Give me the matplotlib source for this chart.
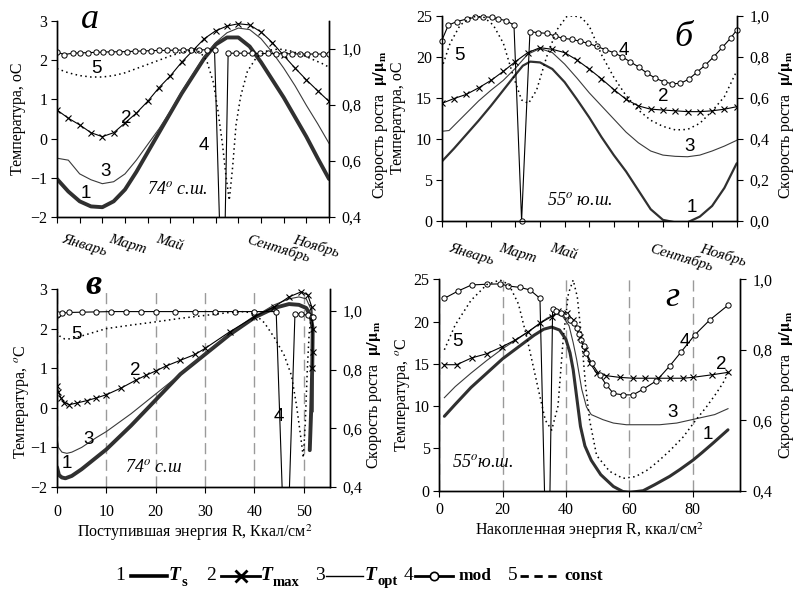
import matplotlib
matplotlib.use("Agg")
import matplotlib.pyplot as plt
from matplotlib.ticker import FuncFormatter

plt.rcParams['font.family'] = ['Liberation Serif', 'DejaVu Serif']
plt.rcParams['mathtext.fontset'] = 'stix'
plt.rcParams['axes.linewidth'] = 1.0

W, H = 798, 592

# ---------------- panel а : 74 N, months ----------------
a_x = [0, 0.5, 1, 1.5, 2, 2.5, 3, 3.5, 4, 4.5, 5, 5.5, 6, 6.5, 7, 7.5, 8, 8.5, 9, 9.5, 10, 10.5, 11, 11.5, 12]
a_ts = [-1.03, -1.35, -1.6, -1.73, -1.75, -1.6, -1.3, -0.85, -0.35, 0.15, 0.65, 1.15, 1.6, 2.05, 2.4, 2.58, 2.58,
        2.35, 1.95, 1.5, 1.05, 0.55, 0.05, -0.5, -1.03]
a_tmax = [0.73, 0.52, 0.35, 0.15, 0.05, 0.15, 0.4, 0.65, 0.95, 1.3, 1.6, 1.95, 2.25, 2.55, 2.75, 2.87, 2.93, 2.9,
          2.72, 2.45, 2.12, 1.8, 1.5, 1.22, 0.95]
a_topt = [-0.5, -0.55, -0.9, -1.05, -1.15, -1.1, -0.9, -0.55, -0.15, 0.25, 0.7, 1.2, 1.65, 2.1, 2.45, 2.7, 2.82,
          2.78, 2.55, 2.2, 1.8, 1.35, 0.85, 0.38, -0.12]
a_mod_x = [0, 0.3, 0.7, 1, 1.35, 1.7, 2.05, 2.4, 2.75, 3.1, 3.45, 3.8, 4.15, 4.5, 4.85, 5.2, 5.55, 5.9, 6.25, 6.6,
           6.95, 7.2, 7.4, 7.55, 7.9, 8.25, 8.6, 8.95, 9.3, 9.65, 10, 10.35, 10.7, 11.05, 11.4, 11.75, 12]
a_mod = [0.99, 0.98, 0.985, 0.986, 0.987, 0.988, 0.989, 0.99, 0.99, 0.991, 0.992, 0.993, 0.994, 0.995, 0.995, 0.996,
         0.996, 0.997, 0.997, 0.997, 0.996, 0.3, 0.3, 0.985, 0.985, 0.985, 0.985, 0.984, 0.984, 0.983, 0.983, 0.983,
         0.982, 0.982, 0.982, 0.982, 0.982]
a_const_x = [0, 0.5, 1, 1.5, 2, 2.5, 3, 3.5, 4, 4.5, 5, 5.5, 6, 6.3, 6.6, 6.9, 7.1, 7.3, 7.45, 7.6, 7.75, 7.9, 8.1,
             8.4, 8.8, 9.3, 9.8, 10.3, 10.8, 11.3, 11.7, 12]
a_const = [0.93, 0.915, 0.905, 0.9, 0.9, 0.905, 0.915, 0.93, 0.945, 0.96, 0.975, 0.988, 0.996, 0.99, 0.96, 0.88,
           0.78, 0.66, 0.55, 0.46, 0.58, 0.73, 0.83, 0.92, 0.97, 0.995, 1.0, 0.993, 0.98, 0.962, 0.948, 0.935]

# ---------------- panel б : 55 S, months ----------------
b_ts_x = [0, 0.5, 1, 1.5, 2, 2.5, 3, 3.3, 3.6, 4, 4.5, 5, 5.5, 6, 6.5, 7, 7.5, 8, 8.5, 9, 9.5, 10, 10.5, 11, 11.5, 12]
b_ts = [7.2, 8.8, 10.5, 12.2, 14.0, 15.9, 17.8, 18.9, 19.4, 19.3, 18.5, 16.9, 14.8, 12.6, 10.2, 8.0, 6.0, 3.7, 1.4,
        0.1, -0.2, -0.2, 0.5, 1.8, 4.0, 7.0]
b_tmax_x = [0, 0.5, 1, 1.5, 2, 2.5, 3, 3.5, 4, 4.5, 5, 5.5, 6, 6.5, 7, 7.5, 8, 8.5, 9, 9.5, 10, 10.5, 11, 11.5, 12]
b_tmax = [14.3, 14.9, 15.4, 16.2, 17.1, 18.2, 19.4, 20.5, 21.1, 20.9, 20.5, 19.6, 18.5, 17.3, 16.0, 14.8, 14.0,
          13.6, 13.5, 13.4, 13.3, 13.3, 13.4, 13.6, 13.9]
b_topt_x = [0, 0.3, 0.7, 1, 1.5, 2, 2.5, 3, 3.5, 4, 4.5, 5, 5.5, 6, 6.5, 7, 7.5, 8, 8.5, 9, 9.5, 10, 10.5, 11, 11.5, 12]
b_topt = [10.9, 11.0, 12.2, 13.1, 14.6, 15.9, 17.1, 18.6, 20.3, 21.0, 20.5, 19.1, 17.4, 15.6, 14.0, 12.4, 10.8, 9.5,
          8.5, 8.0, 7.85, 7.8, 8.0, 8.5, 9.1, 9.8]
b_mod_x = [0, 0.27, 0.61, 1.02, 1.36, 1.69, 2.03, 2.31, 2.62, 2.94, 3.25, 3.59, 3.93, 4.27, 4.61, 4.95, 5.29, 5.63,
           5.97, 6.31, 6.65, 6.99, 7.33, 7.67, 8.01, 8.35, 8.69, 9.03, 9.37, 9.71, 10.05, 10.39, 10.73, 11.07,
           11.41, 11.75, 12]
b_mod = [0.878, 0.954, 0.971, 0.984, 0.992, 0.995, 0.992, 0.984, 0.976, 0.954, 0.0, 0.922, 0.917, 0.914, 0.901,
         0.889, 0.885, 0.875, 0.865, 0.85, 0.835, 0.82, 0.8, 0.775, 0.75, 0.72, 0.695, 0.678, 0.668, 0.67, 0.69,
         0.725, 0.76, 0.8, 0.845, 0.89, 0.93]
b_const_x = [0, 0.34, 0.75, 1.22, 1.69, 2.1, 2.51, 2.92, 3.25, 3.53, 3.86, 4.27, 4.68, 5.08, 5.36, 5.69, 6.0, 6.5,
             7.0, 7.5, 8.0, 8.5, 9.0, 9.5, 10.0, 10.5, 11.0, 11.5, 12]
b_const = [0.743, 0.865, 0.954, 0.995, 0.995, 0.954, 0.865, 0.702, 0.589, 0.572, 0.637, 0.8, 0.93, 0.995, 1.0, 0.99,
           0.95, 0.81, 0.7, 0.61, 0.54, 0.49, 0.46, 0.443, 0.445, 0.475, 0.535, 0.605, 0.73]

# ---------------- panel в : 74 N, received energy ----------------
v_ts_x = [0, 0.4, 1, 1.7, 3, 5, 8, 10, 15, 20, 25, 28, 30, 35, 40, 44, 47, 49, 50.5, 51.4, 51.8, 51.7, 51.5, 51.2]
v_ts = [-1.5, -1.7, -1.76, -1.78, -1.72, -1.55, -1.25, -1.05, -0.45, 0.2, 0.85, 1.15, 1.35, 1.85, 2.28, 2.52,
        2.62, 2.6, 2.52, 2.3, 2.0, 1.0, 0.0, -1.07]
v_tmax_x = [0, 0.3, 0.8, 1.5, 2.5, 4, 6, 8, 10, 13, 16, 18, 20, 22, 25, 28, 30, 35, 40, 44, 47, 49.5, 50.8, 51.6,
            51.8, 51.8, 51.7]
v_tmax = [0.55, 0.4, 0.25, 0.13, 0.08, 0.12, 0.18, 0.25, 0.33, 0.5, 0.7, 0.82, 0.93, 1.05, 1.2, 1.35, 1.5, 1.92,
          2.3, 2.55, 2.8, 2.93, 2.85, 2.55, 2.0, 1.4, 1.0]
v_topt_x = [0, 0.3, 1, 2, 3, 5, 8, 10, 15, 20, 25, 30, 35, 40, 44, 47, 49, 50.5, 51.4, 51.8, 51.9, 51.9]
v_topt = [-0.75, -1.0, -1.12, -1.15, -1.12, -1.0, -0.75, -0.6, -0.15, 0.35, 0.85, 1.38, 1.87, 2.3, 2.6, 2.75, 2.8,
          2.75, 2.5, 1.8, 0.8, -0.1]
v_mod_x = [0, 0.3, 1, 2.5, 5, 8, 11, 14, 17, 20, 24, 28, 32, 36, 40, 44.4, 45.8, 46.9, 48.2, 49.5, 50.8, 51.7, 51.9]
v_mod = [0.985, 0.99, 0.993, 0.995, 0.996, 0.997, 0.998, 0.998, 0.998, 0.998, 0.998, 0.998, 0.998, 0.998, 0.998,
         0.998, 0.3, 0.3, 0.99, 0.99, 0.985, 0.98, 0.98]
v_const_x = [0, 0.5, 1.5, 3, 5, 8, 10, 15, 20, 25, 30, 35, 38, 40, 42, 44, 46, 47.5, 48.5, 49.3, 49.9, 50.3, 50.7,
             51.1, 51.5, 51.8]
v_const = [0.93, 0.915, 0.905, 0.905, 0.915, 0.93, 0.94, 0.952, 0.963, 0.975, 0.985, 0.995, 0.998, 0.99, 0.96,
           0.91, 0.85, 0.78, 0.68, 0.58, 0.5, 0.62, 0.8, 0.93, 0.98, 0.935]

# ---------------- panel г : 55 S, accumulated energy ----------------
g_ts_x = [1.6, 5, 10, 15, 20, 25, 30, 33, 35.5, 38, 40, 41.3, 42.3, 43.5, 44.6, 46, 48, 51, 55, 58, 60.2, 64.4, 68,
          72.8, 76, 80.1, 83, 86.4, 91.2]
g_ts = [8.8, 10.2, 12.2, 13.9, 15.6, 17.0, 18.4, 19.1, 19.35, 19.0, 17.9, 16.3, 14.3, 10.8, 7.6, 5.3, 3.6, 1.9, 0.5,
        -0.1, -0.2, 0.0, 0.7, 1.7, 2.5, 3.6, 4.5, 5.6, 7.2]
g_tmax_x = [1.6, 5.5, 10.2, 15, 19.7, 23.9, 28.1, 31.8, 35.5, 37.6, 40.2, 42.3, 44.4, 46, 47.6, 49.7, 52.8, 57,
            61.3, 65, 69, 73, 77, 80, 86, 91.3]
g_tmax = [14.9, 14.9, 15.7, 16.2, 17.0, 17.8, 18.8, 19.8, 20.6, 21.2, 21.0, 20.2, 18.2, 16.6, 15.1, 13.9, 13.6, 13.4,
          13.3, 13.3, 13.3, 13.3, 13.3, 13.4, 13.7, 14.0]
g_topt_x = [1.6, 5, 10, 15, 20, 25, 30, 34, 37, 39, 41, 42.3, 43.4, 45, 46.5, 48, 51.7, 55, 59.1, 64, 69.6, 75, 82.2,
            87, 91.2]
g_topt = [11.0, 12.3, 13.9, 15.4, 16.8, 18.0, 19.3, 20.4, 20.9, 20.6, 19.5, 17.5, 15.5, 12.0, 9.9, 9.0, 8.4, 8.0,
          7.8, 7.8, 7.8, 8.0, 8.6, 9.0, 9.7]
g_mod_x = [1.6, 6, 10.2, 15, 19.2, 21.8, 25.5, 28.6, 31.8, 33.5, 34.8, 35.8, 37, 38.5, 40, 41.3, 42.5, 43.4, 44.2,
           44.9, 45.7, 46.5, 48.1, 50.7, 52.8, 55, 58.1, 61.2, 64.4, 68.6, 72.8, 76.5, 80.7, 85.5, 91.3]
g_mod = [0.946, 0.967, 0.984, 0.986, 0.987, 0.981, 0.977, 0.97, 0.946, 0.3, 0.3, 0.916, 0.91, 0.905, 0.9, 0.885,
         0.875, 0.861, 0.845, 0.828, 0.81, 0.79, 0.762, 0.728, 0.7, 0.676, 0.672, 0.672, 0.688, 0.712, 0.754, 0.795,
         0.842, 0.885, 0.927]
g_const_x = [1.6, 5, 10, 15, 19.2, 22, 25, 27.6, 30, 31.8, 33.5, 35.5, 37.5, 39.2, 40.8, 42.3, 43.6, 44.9, 46.2,
             47.5, 49.7, 53.8, 58, 62, 66, 69.6, 73, 77.1, 81, 84.4, 87, 89.6, 91.3]
g_const = [0.80, 0.87, 0.94, 0.985, 0.998, 0.985, 0.93, 0.837, 0.74, 0.667, 0.6, 0.572, 0.64, 0.837, 0.96, 0.998,
           0.95, 0.837, 0.7, 0.6, 0.5, 0.455, 0.435, 0.44, 0.46, 0.487, 0.515, 0.553, 0.6, 0.638, 0.67, 0.705, 0.735]

months = ['Январь', 'Март', 'Май', 'Июль', 'Сентябрь', 'Ноябрь']
month_pos = [1.2, 3.1, 4.95, 7.0, 9.75, 11.45]

fig = plt.figure(figsize=(W / 100, H / 100), dpi=100)


def box(l, t, r, b):
    return [l / W, 1 - b / H, (r - l) / W, (b - t) / H]


def comma(v, p):
    return f"{v:.1f}".replace('.', ',')


def panel(rect):
    ax = fig.add_axes(box(*rect))
    ax2 = ax.twinx()
    for a in (ax, ax2):
        a.spines['top'].set_visible(False)
        a.tick_params(direction='out', length=4, width=0.8, labelsize=11.5, pad=3)
    ax2.yaxis.set_major_formatter(FuncFormatter(comma))
    ax2.tick_params(axis='y', pad=5)
    return ax, ax2


def draw(ax, ax2, ts, tmax, topt, mod, const, lw1, mod_clip=True):
    ax.plot(*ts, color='#303030', lw=lw1, solid_capstyle='round', zorder=3)
    ax.plot(*tmax, color='black', lw=0.8, marker='x', ms=5, mew=0.8, zorder=4)
    ax.plot(*topt, color='#3a3a3a', lw=0.8, zorder=3)
    ax2.plot(*mod, color='black', lw=0.8, marker='o', ms=3.8, mfc='white', mew=0.7, clip_on=mod_clip)
    ax2.plot(*const, color='black', lw=1.1, ls=(0, (1, 2.2)))


def nums(ax, items):
    for s, x, y in items:
        ax.text(x, y, s, fontsize=13.5, family='Liberation Sans', ha='center', va='center', zorder=6)


def month_axis(ax, pad):
    ax.set_xlim(0, 12)
    ax.set_xticks(range(13))
    ax.set_xticklabels([])
    ax.set_xticks(month_pos, months, minor=True)
    ax.tick_params(axis='x', which='minor', length=0, pad=pad)
    for t in ax.get_xticklabels(minor=True):
        t.set_rotation(-17)
        t.set_fontstyle('italic')
        t.set_fontsize(11)


# ---- а ----
ax, ax2 = panel((57, 21, 329, 217))
draw(ax, ax2, (a_x, a_ts), (a_x, a_tmax), (a_x, a_topt), (a_mod_x, a_mod), (a_const_x, a_const), 2.8)
ax.set_ylim(-2, 3)
ax2.set_ylim(0.4, 1.1)
ax2.set_yticks([0.4, 0.6, 0.8, 1.0])
month_axis(ax, 11)
nums(ax, [('1', 1.28, -1.39), ('2', 3.04, 0.52), ('3', 2.12, -0.85), ('4', 6.48, -0.17), ('5', 1.76, 1.8)])
ax.text(1.46, 3.05, 'а', fontsize=26, style='italic', ha='center', va='center', clip_on=False)
ax.text(5.3, -1.31, r'74$^o$ с.ш.', fontsize=13, style='italic', ha='center', va='center')

# ---- б ----
ax, ax2 = panel((441.7, 15.7, 736.7, 220.7))
draw(ax, ax2, (b_ts_x, b_ts), (b_tmax_x, b_tmax), (b_topt_x, b_topt), (b_mod_x, b_mod), (b_const_x, b_const),
     1.6, mod_clip=False)
ax.set_ylim(0, 25)
ax.set_yticks(range(0, 26, 5))
ax2.set_ylim(0, 1.0)
ax2.set_yticks([0, 0.2, 0.4, 0.6, 0.8, 1.0])
month_axis(ax, 15)
nums(ax, [('5', 0.74, 20.2), ('4', 7.42, 20.8), ('2', 9.0, 15.1), ('3', 10.1, 9.0), ('1', 10.18, 1.67)])
ax.text(9.82, 22.4, 'б', fontsize=26, style='italic', ha='center', va='center')
ax.text(5.63, 2.5, r'55$^o$ ю.ш.', fontsize=13, style='italic', ha='center', va='center')

# ---- в ----
ax, ax2 = panel((57, 289, 330, 487))
draw(ax, ax2, (v_ts_x, v_ts), (v_tmax_x, v_tmax), (v_topt_x, v_topt), (v_mod_x, v_mod), (v_const_x, v_const), 2.8)
ax.set_xlim(0, 55.3)
ax.set_xticks(range(0, 51, 10))
ax.set_ylim(-2, 3)
ax2.set_ylim(0.4, 1.075)
ax2.set_yticks([0.4, 0.6, 0.8, 1.0])
ax.tick_params(axis='x', pad=8)
ax.xaxis.grid(True, ls=(0, (8, 4)), color='#9a9a9a', lw=1)
nums(ax, [('1', 2.0, -1.4), ('2', 15.9, 0.95), ('3', 6.3, -0.81), ('4', 44.9, -0.23), ('5', 3.9, 1.84)])
ax.text(7.3, 3.1, 'в', fontsize=26, style='italic', weight='bold', ha='center', va='center', clip_on=False)
ax.text(19.5, -1.5, r'74$^o$ с.ш', fontsize=13, style='italic', ha='center', va='center')

# ---- г ----
ax, ax2 = panel((439.3, 279.3, 740, 490.7))
draw(ax, ax2, (g_ts_x, g_ts), (g_tmax_x, g_tmax), (g_topt_x, g_topt), (g_mod_x, g_mod), (g_const_x, g_const), 2.2)
ax.set_xlim(0, 95)
ax.set_xticks(range(0, 81, 20))
ax.set_ylim(0, 25)
ax.set_yticks(range(0, 26, 5))
ax2.set_ylim(0.4, 1.0)
ax2.set_yticks([0.4, 0.6, 0.8, 1.0])
ax.tick_params(axis='x', pad=4)
ax.xaxis.grid(True, ls=(0, (8, 4)), color='#9a9a9a', lw=1)
nums(ax, [('5', 5.6, 17.6), ('4', 77.5, 17.6), ('2', 89.2, 14.9), ('3', 73.7, 9.2), ('1', 84.8, 6.6)])
ax.text(73.7, 22.9, 'г', fontsize=26, style='italic', ha='center', va='center')
ax.text(13.8, 3.3, r'55$^o$ю.ш.', fontsize=13, style='italic', ha='center', va='center')


# ---- axis titles ----
def ftext(x, y, s, **kw):
    fig.text(x / W, 1 - y / H, s, ha='center', va='center', **kw)


ftext(18, 119, 'Температура, оС', rotation=90, fontsize=11.5)
ftext(381, 125, r'Скорость роста  $\mathbf{\mu/\mu_m}$', rotation=90, fontsize=11.5)
ftext(398, 118, 'Температура, оС', rotation=90, fontsize=11.5)
ftext(786, 125, r'Скорость роста  $\mathbf{\mu/\mu_m}$', rotation=90, fontsize=11.5)
ftext(22, 402, r'Температура, $^o$C', rotation=90, fontsize=11.5)
ftext(374, 395, r'Скорость роста  $\mathbf{\mu/\mu_m}$', rotation=90, fontsize=11.5)
ftext(403, 395, r'Температура, $^o$C', rotation=90, fontsize=11.5)
ftext(786, 385, r'Скростоь роста  $\mathbf{\mu/\mu_m}$', rotation=90, fontsize=11.5)
ftext(195, 533, r'Поступившая энергия R, Ккал/см$^2$', fontsize=11.5)
ftext(590, 531, r'Накопленная энергия R, ккал/см$^2$', fontsize=11.5)

# ---- legend row ----
lax = fig.add_axes([0, 0, 1, 1])
lax.set_xlim(0, W)
lax.set_ylim(H, 0)
lax.axis('off')
ly = 576
for s, x in [('1', 120), ('2', 211), ('3', 320), ('4', 408), ('5', 513)]:
    lax.text(x, ly, s, fontsize=14, ha='center', va='center')
lax.plot([131, 167], [ly, ly], color='black', lw=2.6)
lax.plot([221, 260], [ly, ly], color='black', lw=2)
lax.plot([240.5], [ly], color='black', marker='x', ms=9, mew=2)
lax.plot([326, 363], [ly, ly], color='black', lw=1)
lax.plot([415, 453], [ly, ly], color='black', lw=2)
lax.plot([434], [ly], color='black', marker='o', ms=6, mfc='white', mew=1.2)
lax.plot([520, 560], [ly, ly], color='black', lw=2, ls=(0, (3, 2)))
for x, sub in [(169, 's'), (261, 'max'), (365, 'opt')]:
    lax.text(x, ly, 'T', fontsize=14, style='italic', weight='bold', ha='left', va='center')
    lax.text(x + 12, ly + 6, sub, fontsize=10.5, weight='bold', ha='left', va='center')
lax.text(459, ly, 'mod', fontsize=12.5, weight='bold', ha='left', va='center')
lax.text(564, ly, 'const', fontsize=12.5, weight='bold', ha='left', va='center')

fig.savefig('out.png', dpi=100)
